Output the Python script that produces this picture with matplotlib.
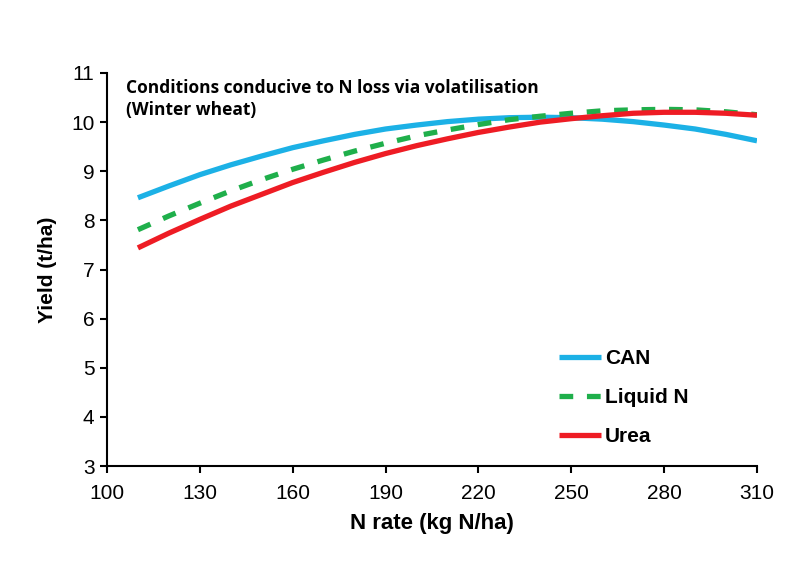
import matplotlib
matplotlib.use('Agg')
import matplotlib.pyplot as plt
from matplotlib import font_manager

# Data
n_rate = [110, 120, 130, 140, 150, 160, 170, 180, 190, 200, 210,
          220, 230, 240, 250, 260, 270, 280, 290, 300, 310]
can = [8.46, 8.70, 8.93, 9.13, 9.31, 9.48, 9.62, 9.75, 9.86, 9.94, 10.01,
       10.06, 10.09, 10.10, 10.09, 10.06, 10.01, 9.94, 9.86, 9.75, 9.62]
liquid_n = [7.81, 8.09, 8.35, 8.60, 8.83, 9.04, 9.23, 9.41, 9.57, 9.72, 9.84,
            9.95, 10.05, 10.12, 10.18, 10.23, 10.25, 10.26, 10.25, 10.21, 10.15]
urea = [7.44, 7.74, 8.02, 8.29, 8.53, 8.77, 8.98, 9.18, 9.36, 9.52, 9.66,
        9.79, 9.90, 10.00, 10.07, 10.13, 10.18, 10.20, 10.20, 10.18, 10.14]
x_ticks = [100, 130, 160, 190, 220, 250, 280, 310]
y_ticks = [3, 4, 5, 6, 7, 8, 9, 10, 11]

plt.rcParams['font.family'] = ['Liberation Sans', 'DejaVu Sans']
installed = {f.name for f in font_manager.fontManager.ttflist}
narrow = 'Liberation Sans Narrow' if 'Liberation Sans Narrow' in installed else 'Liberation Sans'

fig = plt.figure(figsize=(7.9, 5.61), dpi=100)
ax = fig.add_axes([0.1354, 0.1693, 0.8228, 0.7006])

ax.plot(n_rate, can, color='#1CB1E6', lw=3.8, label='CAN', solid_capstyle='butt')
ax.plot(n_rate, liquid_n, color='#1FAF4B', lw=3.8, label='Liquid N',
        dashes=(2.6, 2.6), dash_capstyle='butt')
ax.plot(n_rate, urea, color='#EE1C24', lw=3.8, label='Urea', solid_capstyle='butt')

ax.set_xlim(100, 310)
ax.set_ylim(3, 11)
ax.set_xticks(x_ticks)
ax.set_yticks(y_ticks)
ax.tick_params(direction='out', length=5, width=1.5, labelsize=15)
ax.tick_params(axis='x', pad=8)
ax.tick_params(axis='y', pad=4)
for lbl in ax.get_xticklabels() + ax.get_yticklabels():
    lbl.set_family(narrow)
for side in ['top', 'right']:
    ax.spines[side].set_visible(False)
for side in ['left', 'bottom']:
    ax.spines[side].set_linewidth(1.5)

ax.set_xlabel('N rate (kg N/ha)', fontsize=16, fontweight='bold', labelpad=7,
              family=narrow if narrow == 'Liberation Sans' else 'Liberation Sans')
ax.set_ylabel('Yield (t/ha)', fontsize=15, fontweight='bold', labelpad=10)

ax.text(0.03, 0.985, 'Conditions conducive to N loss via volatilisation\n(Winter wheat)',
        transform=ax.transAxes, ha='left', va='top', fontsize=12.5,
        fontweight='bold', family=['Open Sans', 'DejaVu Sans'], linespacing=1.3)

leg = ax.legend(loc='lower left', bbox_to_anchor=(0.696, 0.05), frameon=False,
                fontsize=15, handlelength=2.0, handletextpad=0.2,
                labelspacing=0.97, borderpad=0, borderaxespad=0)
for t in leg.get_texts():
    t.set_fontweight('bold')
    t.set_family(narrow)

fig.savefig('out.png', dpi=100)
